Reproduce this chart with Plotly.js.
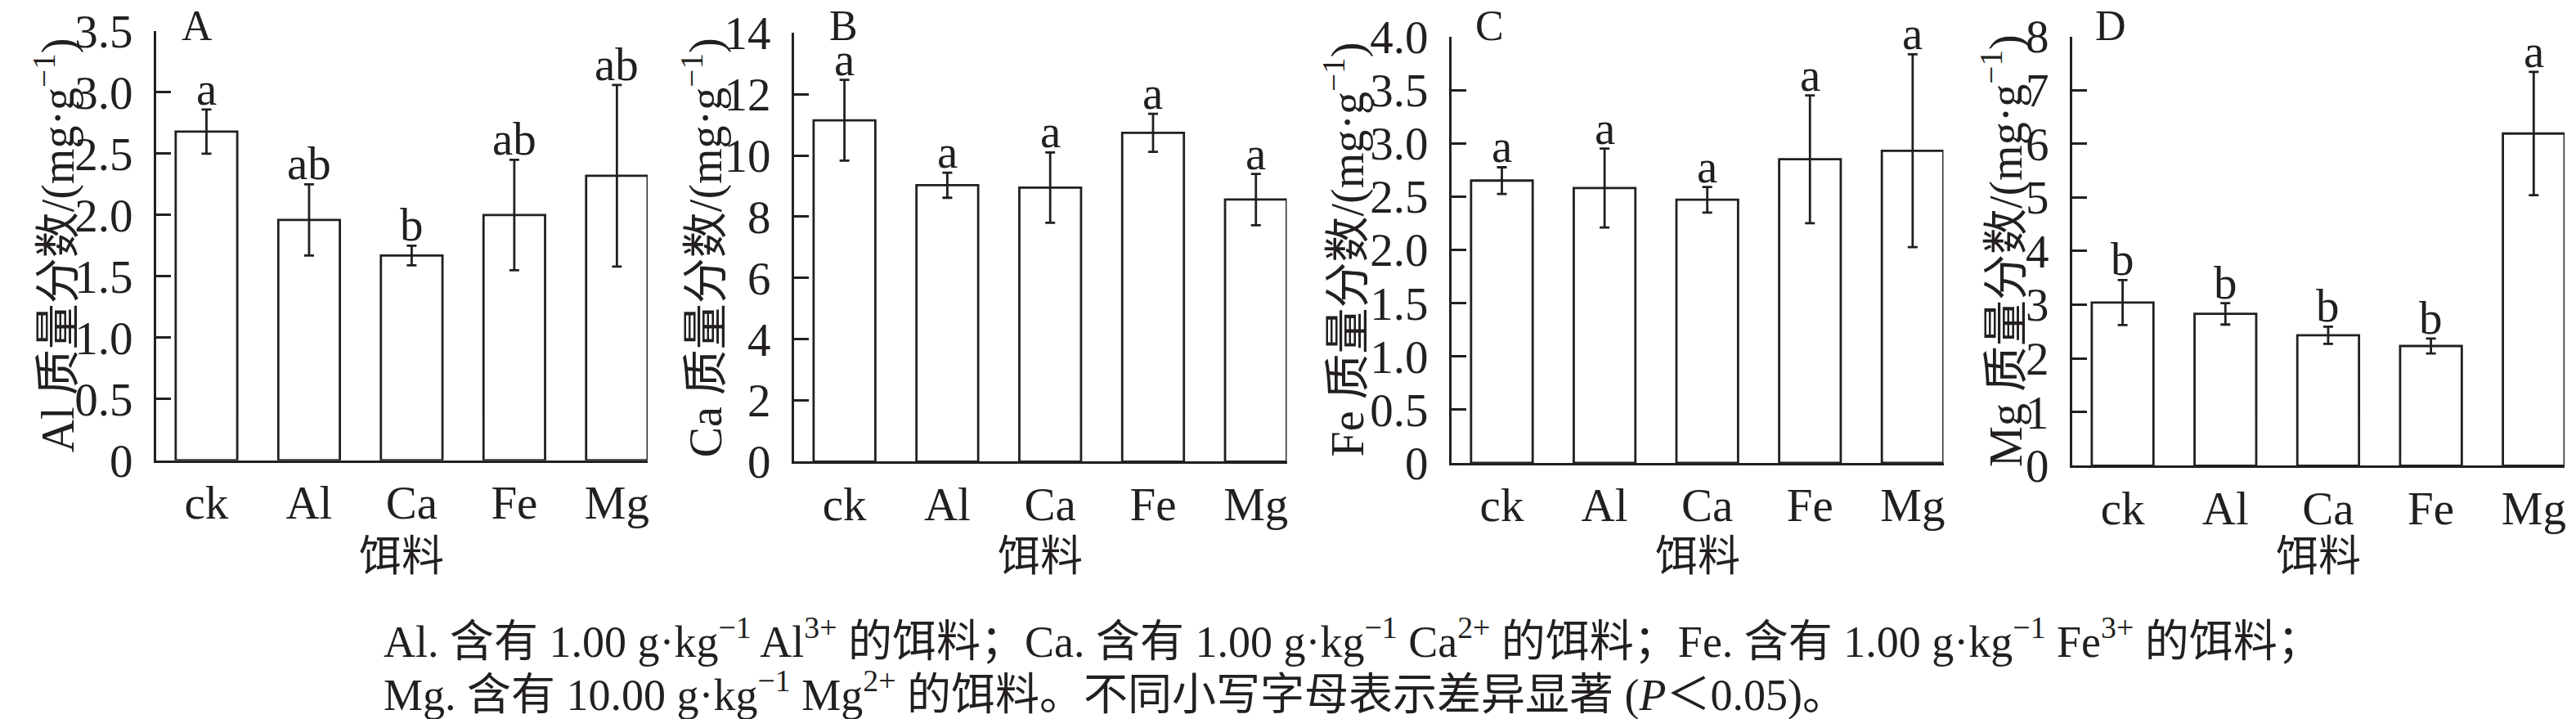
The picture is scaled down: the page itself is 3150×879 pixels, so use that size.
<!DOCTYPE html>
<html>
<head>
<meta charset="utf-8">
<script src="https://cdn.plot.ly/plotly-3.0.1.min.js"></script>
<style>html,body{margin:0;padding:0;background:#fff;}#chart{width:3150px;height:879px;}</style>
</head>
<body>
<div id="chart"></div>
<script>
// ---- data ----
const categories = ['ck', 'Al', 'Ca', 'Fe', 'Mg'];

const alMean = [2.68, 1.96, 1.67, 2.00, 2.32];
const alErr = [0.18, 0.29, 0.08, 0.45, 0.74];
const alLetters = ['a', 'ab', 'b', 'ab', 'ab'];

const caMean = [11.15, 9.03, 8.95, 10.74, 8.56];
const caErr = [1.32, 0.41, 1.15, 0.62, 0.84];
const caLetters = ['a', 'a', 'a', 'a', 'a'];

const feMean = [2.65, 2.58, 2.47, 2.85, 2.93];
const feErr = [0.125, 0.37, 0.12, 0.60, 0.905];
const feLetters = ['a', 'a', 'a', 'a', 'a'];

const mgMean = [3.04, 2.83, 2.43, 2.23, 6.19];
const mgErr = [0.42, 0.20, 0.16, 0.14, 1.15];
const mgLetters = ['b', 'b', 'b', 'b', 'a'];

const alTickVals = [0, 0.5, 1.0, 1.5, 2.0, 2.5, 3.0, 3.5];
const alTickText = ['0', '0.5', '1.0', '1.5', '2.0', '2.5', '3.0', '3.5'];
const caTickVals = [0, 2, 4, 6, 8, 10, 12, 14];
const caTickText = ['0', '2', '4', '6', '8', '10', '12', '14'];
const feTickVals = [0, 0.5, 1.0, 1.5, 2.0, 2.5, 3.0, 3.5, 4.0];
const feTickText = ['0', '0.5', '1.0', '1.5', '2.0', '2.5', '3.0', '3.5', '4.0'];
const mgTickVals = [0, 1, 2, 3, 4, 5, 6, 7, 8];
const mgTickText = ['0', '1', '2', '3', '4', '5', '6', '7', '8'];

const panelLabels = ['A', 'B', 'C', 'D'];
const yTitles = ['Al 质量分数/(mg·g<sup>−1</sup>)', 'Ca 质量分数/(mg·g<sup>−1</sup>)',
                 'Fe 质量分数/(mg·g<sup>−1</sup>)', 'Mg 质量分数/(mg·g<sup>−1</sup>)'];
const xTitle = '饵料';
const captionLine1 = 'Al. 含有 1.00 g·kg<sup>−1</sup> Al<sup>3+</sup> 的饵料；Ca. 含有 1.00 g·kg<sup>−1</sup> Ca<sup>2+</sup> 的饵料；Fe. 含有 1.00 g·kg<sup>−1</sup> Fe<sup>3+</sup> 的饵料；';
const captionLine2 = 'Mg. 含有 10.00 g·kg<sup>−1</sup> Mg<sup>2+</sup> 的饵料。不同小写字母表示差异显著 (<i>P</i>＜0.05)。';

// ---- layout geometry (pixels) ----
const W = 3150, H = 879;
const FONT = 'Liberation Serif, Times New Roman, Noto Sans CJK SC, serif';
const TICK = 57;
const panels = [
  {mean: alMean, err: alErr, letters: alLetters, tv: alTickVals, tt: alTickText, top: 3.5, x0: 191, x1: 792, yt: 38, yb: 562.7, titleX: 68, labX: 220},
  {mean: caMean, err: caErr, letters: caLetters, tv: caTickVals, tt: caTickText, top: 14, x0: 971, x1: 1573.5, yt: 40.4, yb: 564.3, titleX: 860, labX: 1012},
  {mean: feMean, err: feErr, letters: feLetters, tv: feTickVals, tt: feTickText, top: 4.0, x0: 1775, x1: 2376.5, yt: 44.9, yb: 566, titleX: 1645, labX: 1802},
  {mean: mgMean, err: mgErr, letters: mgLetters, tv: mgTickVals, tt: mgTickText, top: 8, x0: 2534, x1: 3136, yt: 44.5, yb: 569.3, titleX: 2449, labX: 2560}
];

const traces = [];
const layout = {
  width: W, height: H,
  margin: {l: 0, r: 0, t: 0, b: 0},
  paper_bgcolor: '#fff', plot_bgcolor: 'rgba(0,0,0,0)',
  showlegend: false,
  bargap: 0.4,
  font: {family: FONT, color: '#231f20', size: 52},
  annotations: []
};

panels.forEach((p, i) => {
  const n = i === 0 ? '' : String(i + 1);
  const xa = 'x' + n, ya = 'y' + n;
  traces.push({
    type: 'bar', x: categories, y: p.mean, xaxis: xa, yaxis: ya,
    marker: {color: '#ffffff', line: {color: '#231f20', width: 2.8}},
    error_y: {type: 'data', array: p.err, visible: true, color: '#231f20', thickness: 2.8, width: 6},
    hoverinfo: 'none'
  });
  layout['xaxis' + n] = {
    domain: [p.x0 / W, p.x1 / W], anchor: ya,
    range: [-0.49, 4.3], type: 'category',
    showline: true, linewidth: 3, linecolor: '#231f20',
    ticks: '', showgrid: false, zeroline: false,
    tickfont: {family: FONT, size: TICK, color: '#231f20'},
    ticklabelstandoff: 0, fixedrange: true
  };
  layout['yaxis' + n] = {
    domain: [1 - p.yb / H, 1 - p.yt / H], anchor: xa,
    range: [0, p.top],
    tickvals: p.tv, ticktext: p.tt,
    showline: true, linewidth: 3, linecolor: '#231f20',
    ticks: 'inside', ticklen: 18, tickwidth: 3, tickcolor: '#231f20',
    showgrid: false, zeroline: false,
    tickfont: {family: FONT, size: TICK, color: '#231f20'},
    ticklabelstandoff: 14, fixedrange: true
  };
  categories.forEach((c, j) => {
    layout.annotations.push({
      xref: xa, yref: ya, x: c, y: p.mean[j] + p.err[j],
      text: p.letters[j], showarrow: false, yanchor: 'bottom', yshift: -8,
      font: {family: FONT, size: TICK, color: '#231f20'}
    });
  });
  layout.annotations.push({
    xref: 'paper', yref: 'paper', x: p.titleX / W, y: 1 - ((p.yt + p.yb) / 2) / H,
    text: yTitles[i], textangle: -90, showarrow: false,
    xanchor: 'center', yanchor: 'middle',
    font: {family: FONT, size: 56, color: '#231f20'}
  });
  layout.annotations.push({
    xref: 'paper', yref: 'paper', x: ((p.x0 + p.x1) / 2) / W, y: 1 - 680 / H,
    text: xTitle, showarrow: false, xanchor: 'center', yanchor: 'middle',
    font: {family: FONT, size: 52, color: '#231f20'}
  });
  layout.annotations.push({
    xref: 'paper', yref: 'paper', x: p.labX / W, y: 1 - 31 / H,
    text: panelLabels[i], showarrow: false, xanchor: 'left', yanchor: 'middle',
    font: {family: FONT, size: 52, color: '#231f20'}
  });
});

layout.annotations.push({
  xref: 'paper', yref: 'paper', x: 467 / W, y: 1 - 780 / H,
  text: captionLine1, showarrow: false, xanchor: 'left', yanchor: 'middle', align: 'left',
  font: {family: FONT, size: 54, color: '#231f20'}
});
layout.annotations.push({
  xref: 'paper', yref: 'paper', x: 467 / W, y: 1 - 845 / H,
  text: captionLine2, showarrow: false, xanchor: 'left', yanchor: 'middle', align: 'left',
  font: {family: FONT, size: 54, color: '#231f20'}
});

Plotly.newPlot('chart', traces, layout, {staticPlot: true, displayModeBar: false});
</script>
</body>
</html>
